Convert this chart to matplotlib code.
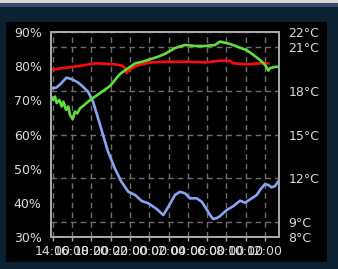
#!/usr/bin/python
# -*- coding: utf-8 -*-

import datetime as dt
import matplotlib
matplotlib.use('Agg')
import matplotlib.pyplot as plt
import matplotlib.dates as mdates
from matplotlib.patches import Rectangle

###############################################################################
# Data (hours after 14:00)
###############################################################################
START = dt.datetime(2021, 5, 1, 14, 0)

outTime = [
    -0.21, 0.37, 0.89, 1.41, 1.93, 2.62, 3.14, 3.66, 4.18, 4.69, 5.21, 5.73,
    6.42, 7.11, 7.83, 8.53, 9.22, 9.91, 10.78, 11.46, 11.98, 12.67, 13.19,
    13.71, 14.23, 14.92, 15.44, 15.78, 16.30, 16.61, 17.03, 17.34, 18.03,
    18.72, 19.41, 19.93, 20.62, 21.14, 21.48, 22.0, 22.34, 22.69, 23.04, 23.48
]
outTemp = [
    18.15, 18.20, 18.50, 18.88, 18.79, 18.56, 18.26, 17.92, 17.24, 16.13,
    14.97, 13.83, 12.71, 11.78, 11.09, 10.87, 10.46, 10.30, 9.91, 9.50,
    10.07, 10.87, 11.09, 10.98, 10.64, 10.64, 10.41, 10.07, 9.50, 9.23,
    9.30, 9.43, 9.84, 10.11, 10.48, 10.34, 10.64, 10.87, 11.21, 11.62,
    11.55, 11.39, 11.48, 11.90
]

inTime = [
    -0.21, 0.76, 1.59, 2.83, 3.66, 4.49, 5.52, 6.46, 7.18, 7.49, 7.65, 7.91,
    8.19, 8.63, 9.22, 10.26, 11.64, 13.71, 15.20, 15.78, 17.34, 18.37,
    18.72, 20.10, 21.48, 22.34
]
inTemp = [
    19.42, 19.51, 19.58, 19.68, 19.78, 19.86, 19.83, 19.79, 19.71, 19.54,
    19.20, 19.37, 19.52, 19.68, 19.79, 19.93, 19.97, 19.97, 19.95, 19.92,
    20.04, 20.02, 19.86, 19.79, 19.86, 19.86
]

humTime = [
    -0.21, 0.06, 0.24, 0.41, 0.68, 0.93, 1.10, 1.38, 1.62, 1.79, 2.07, 2.31,
    2.55, 2.83, 3.17, 3.87, 4.90, 5.94, 6.97, 7.80, 8.53, 9.56, 10.94, 11.64,
    12.67, 13.71, 14.75, 15.78, 16.82, 17.34, 18.37, 19.41, 20.10, 20.79,
    21.48, 22.0, 22.34, 22.52, 22.87, 23.48
]
humidity = [
    71.3, 70.1, 71.1, 69.2, 70.1, 68.2, 69.6, 67.2, 68.2, 65.7, 64.5, 66.7,
    66.2, 67.7, 68.4, 70.1, 72.1, 74.2, 77.7, 79.4, 80.8, 81.5, 82.8, 83.6,
    85.3, 86.2, 85.9, 85.9, 86.2, 87.2, 86.5, 85.4, 84.7, 83.3, 81.8, 80.4,
    78.7, 79.4, 79.7, 79.9
]

humTicks = [30, 40, 50, 60, 70, 80, 90]
tempTicks = [8, 9, 12, 15, 18, 21, 22]

###############################################################################
# Style
###############################################################################
(NAVY, TXT, SPN, GRD) = ('#0c2232', '#dcdcdc', '#a8a8a8', '#6e6e6e')
(RED, GREEN, BLUE) = ('#ff0a0a', '#62e03a', '#86a6f2')
FS = 9
W, H = 338, 269


def toDates(hours):
    return [START + dt.timedelta(hours=h) for h in hours]


###############################################################################
# Figure and background panels
###############################################################################
fig = plt.figure(figsize=(W / 100, H / 100), dpi=100, facecolor=NAVY)
for (rect, col) in [
        ((0, 1 - 3 / H, 1, 3 / H), '#d6d6d6'),
        ((0, 1 - 7 / H, 1, 4 / H), '#3b4866'),
        ((6 / W, 7 / H, 321 / W, 240 / H), 'black'),
        ]:
    fig.patches.append(Rectangle(
            rect[:2], rect[2], rect[3], transform=fig.transFigure,
            facecolor=col, edgecolor='none', zorder=-5
        ))

###############################################################################
# Temperature axis (right) and humidity axis (left)
###############################################################################
axT = fig.add_axes([50.7 / W, 32 / H, 228.6 / W, 205 / H])
axT.set_facecolor('black')
axT.plot(toDates(outTime), outTemp, color=BLUE, lw=1.9, solid_capstyle='round')
axT.plot(toDates(inTime), inTemp, color=RED, lw=1.9, solid_capstyle='round')
axT.set_ylim(8, 22)
axT.set_xlim(START + dt.timedelta(hours=-0.21),
             START + dt.timedelta(hours=23.48))
axT.xaxis.set_major_locator(mdates.HourLocator(byhour=range(0, 24, 2)))
axT.xaxis.set_major_formatter(mdates.DateFormatter('%H:%M'))
axT.grid(True, color=GRD, ls=(0, (4, 3)), lw=1.0)

axH = axT.twinx()
axH.plot(toDates(humTime), humidity, color=GREEN, lw=1.9,
         solid_capstyle='round')
axH.set_ylim(30, 90)
axH.set_yticks(humTicks)
axH.set_yticklabels(['{}%'.format(h) for h in humTicks])
axH.yaxis.tick_left()
axH.tick_params(axis='y', length=0, pad=6.5, labelsize=FS, labelcolor=TXT)

# twinx moves the first axis to the left, so put it back on the right
axT.yaxis.tick_right()
axT.set_yticks(tempTicks)
axT.set_yticklabels(['{}°C'.format(t) for t in tempTicks])
axT.tick_params(axis='y', length=0, pad=6.5, labelsize=FS, labelcolor=TXT)
axT.tick_params(axis='x', length=3, width=1, color=SPN, pad=3,
                labelsize=FS, labelcolor=TXT)

for a in (axT, axH):
    for s in a.spines.values():
        s.set_color(SPN)
        s.set_linewidth(1.4)

fig.savefig('out.png', dpi=100, facecolor=NAVY)
